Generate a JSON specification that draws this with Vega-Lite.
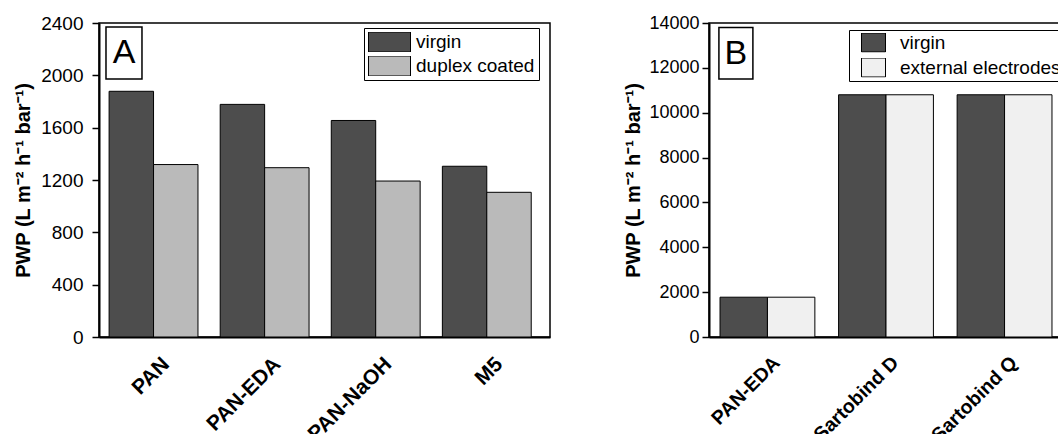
{
  "$schema": "https://vega.github.io/schema/vega-lite/v6.json",
  "background": "white",
  "padding": {"left": 12, "top": 13, "right": 0, "bottom": 0},
  "spacing": 72,
  "resolve": {"scale": {"color": "independent", "xOffset": "independent"}, "legend": {"color": "independent"}},
  "datasets": {
    "a": [
      {"membrane": "PAN", "series": "virgin", "pwp": 1878},
      {"membrane": "PAN", "series": "duplex coated", "pwp": 1318},
      {"membrane": "PAN-EDA", "series": "virgin", "pwp": 1778},
      {"membrane": "PAN-EDA", "series": "duplex coated", "pwp": 1294},
      {"membrane": "PAN-NaOH", "series": "virgin", "pwp": 1655},
      {"membrane": "PAN-NaOH", "series": "duplex coated", "pwp": 1192},
      {"membrane": "M5", "series": "virgin", "pwp": 1305},
      {"membrane": "M5", "series": "duplex coated", "pwp": 1106}
    ],
    "b": [
      {"membrane": "PAN-EDA", "series": "virgin", "pwp": 1775},
      {"membrane": "PAN-EDA", "series": "external electrodes", "pwp": 1775},
      {"membrane": "Sartobind D", "series": "virgin", "pwp": 10800},
      {"membrane": "Sartobind D", "series": "external electrodes", "pwp": 10800},
      {"membrane": "Sartobind Q", "series": "virgin", "pwp": 10800},
      {"membrane": "Sartobind Q", "series": "external electrodes", "pwp": 10800}
    ]
  },
  "hconcat": [
    {
      "width": 451,
      "height": 314,
      "resolve": {"scale": {"x": "independent"}},
      "layer": [
        {
          "data": {"name": "a"},
          "mark": {"type": "bar", "stroke": "black", "strokeWidth": 1},
          "encoding": {
            "x": {
              "field": "membrane", "type": "nominal",
              "sort": ["PAN", "PAN-EDA", "PAN-NaOH", "M5"],
              "scale": {"paddingInner": 0.2, "paddingOuter": 0.13, "align": 0.35},
              "axis": {"title": null, "ticks": false, "labelAngle": -45, "labelAlign": "right", "labelBaseline": "top", "labelFontWeight": "bold", "labelFontSize": 21, "labelPadding": 16, "labelOffset": 5, "domainWidth": 2}
            },
            "xOffset": {"field": "series", "type": "nominal", "sort": ["virgin", "duplex coated"]},
            "y": {
              "field": "pwp", "type": "quantitative",
              "scale": {"domain": [0, 2400], "nice": false},
              "axis": {
                "title": "PWP (L m⁻² h⁻¹ bar⁻¹)",
                "values": [0, 200, 400, 600, 800, 1000, 1200, 1400, 1600, 1800, 2000, 2200, 2400],
                "labelExpr": "datum.value % 400 === 0 ? datum.label : ''",
                "format": "d",
                "tickSize": {"condition": {"test": "datum.value % 400 === 0", "value": 7}, "value": 4},
                "labelFontSize": 19, "labelPadding": 9,
                "titleFontSize": 20, "titleFontWeight": "bold", "titlePadding": 7,
                "domainWidth": 2
              }
            },
            "color": {
              "field": "series", "type": "nominal",
              "scale": {"domain": ["virgin", "duplex coated"], "range": ["#4d4d4d", "#bababa"]},
              "legend": {
                "title": null, "orient": "none", "legendX": 265, "legendY": 5,
                "symbolType": "M-1,-0.476H1V0.476H-1Z", "symbolSize": 1764, "clipHeight": 20,
                "rowPadding": 4, "labelFontSize": 19, "labelOffset": 5, "padding": 4, "labelLimit": 0,
                "strokeColor": "black", "fillColor": "white",
                "symbolStrokeColor": "black", "symbolStrokeWidth": 1, "symbolOpacity": 1
              }
            }
          }
        },
        {
          "data": {"values": [{"panel": "A"}]},
          "layer": [
            {
              "mark": {"type": "rect", "fill": "white", "stroke": "black", "strokeWidth": 1.5},
              "encoding": {
                "x": {"datum": 0.0155, "type": "quantitative", "scale": {"domain": [0, 1]}, "axis": null},
                "x2": {"datum": 0.0953},
                "y": {"datum": 2369, "type": "quantitative"},
                "y2": {"datum": 1972}
              }
            },
            {
              "mark": {"type": "text", "fontSize": 34, "baseline": "middle", "align": "center"},
              "encoding": {
                "text": {"field": "panel"},
                "x": {"datum": 0.0554, "type": "quantitative", "scale": {"domain": [0, 1]}, "axis": null},
                "y": {"datum": 2171, "type": "quantitative"}
              }
            }
          ]
        }
      ]
    },
    {
      "width": 354,
      "height": 314,
      "resolve": {"scale": {"x": "independent"}},
      "layer": [
        {
          "data": {"name": "b"},
          "mark": {"type": "bar", "stroke": "black", "strokeWidth": 1},
          "encoding": {
            "x": {
              "field": "membrane", "type": "nominal",
              "sort": ["PAN-EDA", "Sartobind D", "Sartobind Q"],
              "scale": {"paddingInner": 0.2, "paddingOuter": 0.093, "align": 0.5},
              "axis": {"title": null, "ticks": false, "labelAngle": -45, "labelAlign": "right", "labelBaseline": "top", "labelFontWeight": "bold", "labelFontSize": 19.5, "labelPadding": 16, "labelOffset": 3, "domainWidth": 2}
            },
            "xOffset": {"field": "series", "type": "nominal", "sort": ["virgin", "external electrodes"]},
            "y": {
              "field": "pwp", "type": "quantitative",
              "scale": {"domain": [0, 14000], "nice": false},
              "axis": {
                "title": "PWP (L m⁻² h⁻¹ bar⁻¹)",
                "values": [0, 1000, 2000, 3000, 4000, 5000, 6000, 7000, 8000, 9000, 10000, 11000, 12000, 13000, 14000],
                "labelExpr": "datum.value % 2000 === 0 ? datum.label : ''",
                "format": "d",
                "tickSize": {"condition": {"test": "datum.value % 2000 === 0", "value": 7}, "value": 4},
                "labelFontSize": 18, "labelPadding": 3,
                "titleFontSize": 20, "titleFontWeight": "bold", "titlePadding": 5,
                "domainWidth": 2
              }
            },
            "color": {
              "field": "series", "type": "nominal",
              "scale": {"domain": ["virgin", "external electrodes"], "range": ["#4d4d4d", "#f0f0f0"]},
              "legend": {
                "title": null, "orient": "none", "legendX": 140, "legendY": 7,
                "symbolType": "M-1,-0.79H1V0.79H-1Z", "symbolSize": 576, "clipHeight": 19,
                "rowPadding": 5, "labelFontSize": 19, "labelOffset": 14, "padding": 3, "labelLimit": 0,
                "symbolOffset": 9,
                "strokeColor": "black", "fillColor": "white",
                "symbolStrokeColor": "black", "symbolStrokeWidth": 1, "symbolOpacity": 1
              }
            }
          }
        },
        {
          "data": {"values": [{"panel": "B"}]},
          "layer": [
            {
              "mark": {"type": "rect", "fill": "white", "stroke": "black", "strokeWidth": 1.5},
              "encoding": {
                "x": {"datum": 0.028, "type": "quantitative", "scale": {"domain": [0, 1]}, "axis": null},
                "x2": {"datum": 0.124},
                "y": {"datum": 13800, "type": "quantitative"},
                "y2": {"datum": 11503}
              }
            },
            {
              "mark": {"type": "text", "fontSize": 34, "baseline": "middle", "align": "center"},
              "encoding": {
                "text": {"field": "panel"},
                "x": {"datum": 0.076, "type": "quantitative", "scale": {"domain": [0, 1]}, "axis": null},
                "y": {"datum": 12640, "type": "quantitative"}
              }
            }
          ]
        }
      ]
    }
  ],
  "config": {
    "font": "Liberation Sans",
    "view": {"stroke": "black", "strokeWidth": 1.5},
    "axis": {"domainColor": "black", "tickColor": "black", "labelColor": "black", "titleColor": "black", "grid": false, "tickWidth": 1.5, "labelFontSize": 19, "titleFontSize": 20},
    "legend": {"labelColor": "black"}
  }
}
